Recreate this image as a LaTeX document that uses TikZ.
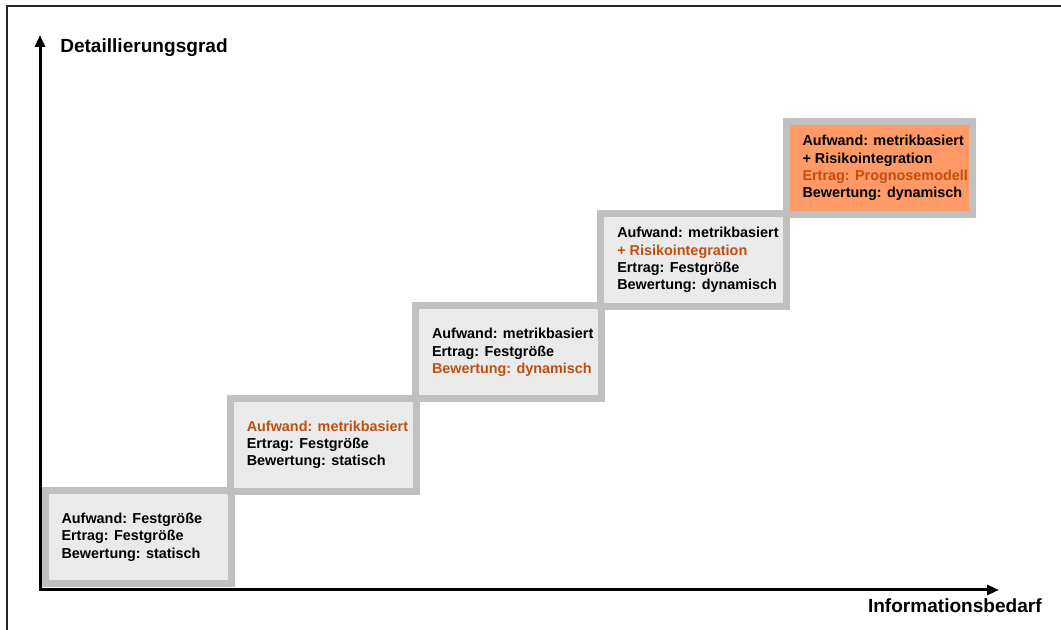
\documentclass[tikz,border=0pt]{standalone}
\usepackage{fontspec}
\setmainfont{Liberation Sans}
\usetikzlibrary{arrows.meta}
\definecolor{boxgray}{RGB}{192,192,192}
\definecolor{boxfill}{RGB}{234,234,234}
\definecolor{orfill}{RGB}{255,153,102}
\definecolor{hl}{RGB}{192,80,16}
\begin{document}
\begin{tikzpicture}[x=0.75pt,y=-0.75pt,
  stepbox/.style={draw=boxgray, line width=5.25pt, fill=boxfill, rectangle,
     minimum width=139.5pt, minimum height=69.75pt, inner sep=0pt, outer sep=0pt},
  txt/.style={anchor=west, align=left, inner sep=0pt, outer sep=0pt,
     font=\bfseries\fontsize{10.8}{13}\selectfont},
  axlabel/.style={inner sep=0pt, font=\bfseries\fontsize{14.3}{16}\selectfont},
  axis/.style={line width=2.25pt, -{Triangle[length=9pt,width=7.5pt]}}
]
\useasboundingbox (0,0) rectangle (1061,630);
% frame
\draw[line width=1pt, black!85] (7,630) -- (7,6) -- (1061,6);
% boxes
\node[stepbox] (b1) at (138,537) {};
\node[stepbox] (b2) at (323.25,444.75) {};
\node[stepbox] (b3) at (508.5,352.5) {};
\node[stepbox] (b4) at (693.75,260.25) {};
\node[stepbox, fill=orfill] (b5) at (879,168) {};
% texts
\node[txt] (t1) at ([xshift=12.4pt]b1.west) {Aufwand: Festgröße\\Ertrag: Festgröße\\Bewertung: statisch};
\node[txt] (t2) at ([xshift=12.4pt]b2.west) {\textcolor{hl}{Aufwand: metrikbasiert}\\Ertrag: Festgröße\\Bewertung: statisch};
\node[txt] (t3) at ([xshift=12.4pt]b3.west) {Aufwand: metrikbasiert\\Ertrag: Festgröße\\\textcolor{hl}{Bewertung: dynamisch}};
\node[txt] (t4) at ([xshift=12.4pt]b4.west) {Aufwand: metrikbasiert\\\textcolor{hl}{+ Risikointegration}\\Ertrag: Festgröße\\Bewertung: dynamisch};
\node[txt] (t5) at ([xshift=12.4pt]b5.west) {Aufwand: metrikbasiert\\+ Risikointegration\\\textcolor{hl}{Ertrag: Prognosemodell}\\Bewertung: dynamisch};
% axes
\coordinate (o) at (40,591);
\coordinate (ytop) at (40,35);
\coordinate (ox) at (38.9,590);
\coordinate (xend) at (999,590);
\draw[axis] (o) -- (ytop);
\draw[axis] (ox) -- (xend);
\node[axlabel, anchor=base west] (ly) at (60,53) {Detaillierungsgrad};
\node[axlabel, anchor=base east] (lx) at (1042,613) {Informationsbedarf};
\end{tikzpicture}
\end{document}
